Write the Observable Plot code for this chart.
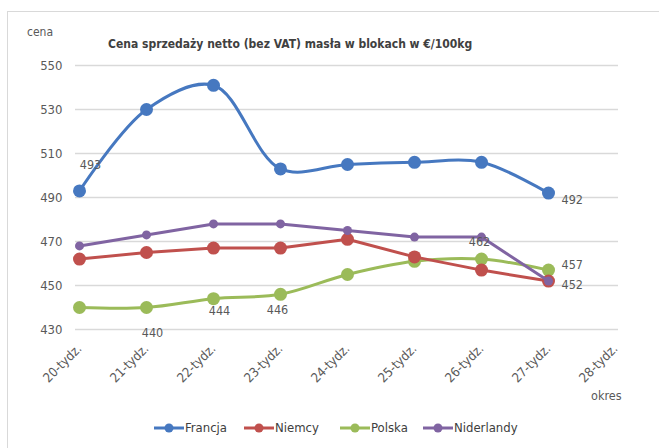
<!DOCTYPE html>
<html><head><meta charset="utf-8">
<script src="https://cdn.jsdelivr.net/npm/d3@7"></script>
<script src="https://cdn.jsdelivr.net/npm/@observablehq/plot@0.6"></script>
<style>
body{margin:0;background:#fff;font-family:"Liberation Sans Narrow","DejaVu Sans Condensed",sans-serif;}
#wrap{position:relative;width:659px;height:448px;overflow:hidden;}
#frame{position:absolute;left:7px;top:11px;width:700px;height:500px;border:1px solid #d9d9d9;box-sizing:border-box;}
.ovl{position:absolute;color:#595959;font-size:12px;white-space:nowrap;}
#title{left:108px;top:37px;font-weight:bold;color:#404040;font-size:12px;}
#chart{position:absolute;left:0;top:0;}
#legend{position:absolute;top:420px;left:0;width:659px;height:18px;}
.li{position:absolute;top:0;display:flex;align-items:center;font-size:13px;color:#404040;}
</style></head>
<body>
<div id="wrap">
<div id="frame"></div>
<div id="chart"></div>
<div class="ovl" id="cena" style="left:27px;top:25px;">cena</div>
<div class="ovl" id="title">Cena sprzedaży netto (bez VAT) masła w blokach w €/100kg</div>
<div class="ovl" id="okres" style="left:591px;top:388px;font-size:12.5px;">okres</div>
<div id="legend"></div>
</div>
<script>
const weeks = ["20-tydz.","21-tydz.","22-tydz.","23-tydz.","24-tydz.","25-tydz.","26-tydz.","27-tydz.","28-tydz."];
const seriesNames = ["Francja","Niemcy","Polska","Niderlandy"];
const seriesColors = ["#4678c0","#c0504d","#9bbb59","#8064a2"];
const francja = [493,530,541,503,505,506,506,492];
const niemcy = [462,465,467,467,471,463,457,452];
const polska = [440,440,444,446,455,461,462,457];
const niderlandy = [468,473,478,478,475,472,472,452];
const yTicks = [430,450,470,490,510,530,550];
// data labels: series, week index
const labelSeries = ["Francja","Francja","Polska","Polska","Polska","Polska","Polska","Niemcy"];
const labelIdx = [0,7,1,2,3,6,7,7];
const labelDx = [11,13,6,6,-3,-2,13,13];
const labelDy = [-26,7,25,12,16,-17,-5,4];
const labelAnchor = ["middle","start","middle","middle","middle","middle","start","start"];

const seriesVals = {Francja:francja, Niemcy:niemcy, Polska:polska, Niderlandy:niderlandy};
const rows = [];
seriesNames.forEach(s => seriesVals[s].forEach((v,i) => rows.push({s, w:weeks[i], v})));
const colorOf = s => seriesColors[seriesNames.indexOf(s)];
const labels = labelSeries.map((s,k) => ({s, w:weeks[labelIdx[k]], v:seriesVals[s][labelIdx[k]], dx:labelDx[k], dy:labelDy[k], a:labelAnchor[k]}));

const marks = [
  Plot.gridY(yTicks, {stroke:"#d9d9d9", strokeOpacity:1, strokeWidth:1.3}),
];
const smooth = {Francja:"catmull-rom", Niemcy:"linear", Polska:"catmull-rom", Niderlandy:"linear"};
const order = ["Polska","Niemcy","Niderlandy","Francja"];
order.forEach(s => {
  const d = rows.filter(r => r.s === s);
  marks.push(Plot.line(d, {x:"w", y:"v", stroke:colorOf(s), strokeWidth:3, curve:smooth[s]}));
  marks.push(Plot.dot(d, {x:"w", y:"v", fill:colorOf(s), r: s==="Niderlandy"?4.5:6.5, stroke:"none"}));
});
labels.forEach(l => {
  marks.push(Plot.text([l], {x:"w", y:"v", text:d=>String(d.v), dx:l.dx, dy:l.dy, textAnchor:l.a, fill:"#595959", fontSize:12.5}));
});

const chart = Plot.plot({
  width:659, height:410,
  marginTop:65, marginBottom:81, marginLeft:75, marginRight:41,
  style:{fontFamily:'"Liberation Sans Narrow","DejaVu Sans Condensed",sans-serif', fontSize:"13px", color:"#595959", background:"transparent"},
  x:{type:"point", domain:weeks, padding:0, label:null, tickSize:0, tickRotate:-45, tickPadding:17},
  y:{domain:[430,550], ticks:yTicks, label:null, tickSize:0, tickPadding:13},
  marks
});
document.getElementById("chart").appendChild(chart);

const legend = document.getElementById("legend");
const legX = [153,243,339,422];
seriesNames.forEach((s,i) => {
  const div = document.createElement("div");
  div.className = "li";
  div.style.left = legX[i] + "px";
  div.innerHTML = `<svg width="32" height="14"><line x1="1" y1="7" x2="31" y2="7" stroke="${seriesColors[i]}" stroke-width="3"/><circle cx="16" cy="7" r="4.5" fill="${seriesColors[i]}"/></svg><span>${s}</span>`;
  legend.appendChild(div);
});
</script>
</body></html>
